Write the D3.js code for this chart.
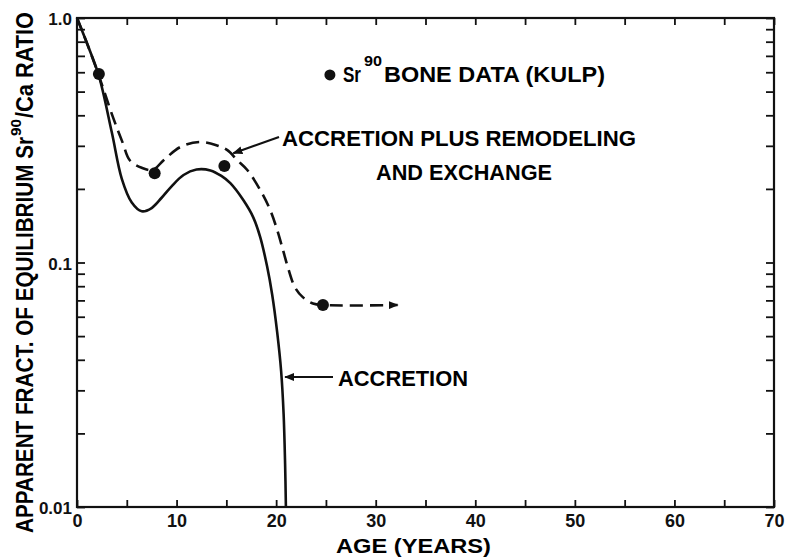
<!DOCTYPE html>
<html>
<head>
<meta charset="utf-8">
<script src="https://cdn.jsdelivr.net/npm/d3@7"></script>
<style>
  html, body { margin: 0; padding: 0; background: #fff; }
  svg { display: block; font-family: "Liberation Sans", Arial, sans-serif; font-weight: bold; }
  .tick line { stroke: #111; stroke-width: 1.8; }
  .tick text { fill: #111; }
</style>
</head>
<body>
<svg id="chart" width="785" height="558"></svg>
<script>
// Sr90 bone data vs. models: apparent fraction of equilibrium Sr90/Ca ratio by age.
const AGE_TICKS = [0, 5, 10, 15, 20, 25, 30, 35, 40, 45, 50, 55, 60, 65, 70];
const AGE_LABELS = [0, 10, 20, 30, 40, 50, 60, 70];
const RATIO_LABELS = [[0.01, "0.01"], [0.1, "0.1"], [1, "1.0"]];

// accretion model (solid)
const accretion = [
  [0, 1.0], [1.1, 0.77], [2.2, 0.58], [3.5, 0.34], [4.5, 0.22], [5.5, 0.176], [6.5, 0.162],
  [7.5, 0.167], [8.5, 0.184], [9.5, 0.205], [10.7, 0.228], [12.0, 0.240], [13.4, 0.238],
  [14.5, 0.226], [15.4, 0.211], [16.7, 0.180], [17.7, 0.153], [18.4, 0.127], [19.1, 0.096],
  [19.6, 0.074], [20.1, 0.052], [20.5, 0.036], [20.75, 0.024], [20.9, 0.015], [20.98, 0.01]
];
// accretion plus remodeling and exchange (dashed)
const remodeling = [
  [0, 1.0], [1.1, 0.77], [2.2, 0.58], [3.6, 0.394], [4.6, 0.308], [5.3, 0.262], [6.5, 0.244],
  [7.6, 0.239], [8.7, 0.262], [10.4, 0.297], [12.4, 0.311], [14.0, 0.302], [15.1, 0.288],
  [16.1, 0.262], [17.1, 0.239], [18.4, 0.198], [19.4, 0.164], [20.1, 0.136], [20.7, 0.112],
  [21.2, 0.095], [21.9, 0.079], [22.7, 0.072], [23.7, 0.068], [24.7, 0.067], [32.2, 0.067]
];
// Sr90 bone data (Kulp)
const kulpAge = [2.2, 7.8, 14.8, 24.7];
const kulpRatio = [0.59, 0.232, 0.248, 0.067];

const svg = d3.select("#chart");
const m = { left: 77, right: 774, top: 18, bottom: 507 };
const x = d3.scaleLinear().domain([0, 70]).range([m.left, m.right]);
const y = d3.scaleLog().domain([0.01, 1]).range([m.bottom, m.top]);
const minorY = d3.range(-2, 0).flatMap(e => d3.range(1, 10).map(k => +(k * 10 ** e).toFixed(4))).concat([1]);

const defs = svg.append("defs");
defs.append("marker").attr("id", "head").attr("viewBox", "0 0 10 8")
  .attr("refX", 9).attr("refY", 4).attr("markerWidth", 10).attr("markerHeight", 8)
  .attr("markerUnits", "userSpaceOnUse").attr("orient", "auto")
  .append("path").attr("d", "M0,0 L10,4 L0,8 Z").attr("fill", "#111");

// axes, ticks inward
const labelMap = new Map(RATIO_LABELS);
svg.append("g").attr("transform", `translate(0,${m.bottom})`)
  .call(d3.axisBottom(x).tickValues(AGE_TICKS).tickSize(-7).tickPadding(7)
    .tickFormat(d => AGE_LABELS.includes(d) ? d : ""))
  .call(g => g.selectAll("text").attr("font-size", 18));
svg.append("g").attr("transform", `translate(0,${m.top})`)
  .call(d3.axisTop(x).tickValues(AGE_TICKS).tickSize(-7).tickFormat(""));
svg.append("g").attr("transform", `translate(${m.left},0)`)
  .call(d3.axisLeft(y).tickValues(minorY).tickSize(-8).tickPadding(5)
    .tickFormat(d => labelMap.get(d) || ""))
  .call(g => g.selectAll("text").attr("font-size", 17).attr("dy", "0.4em"));
svg.append("g").attr("transform", `translate(${m.right},0)`)
  .call(d3.axisRight(y).tickValues(minorY).tickSize(-8).tickFormat(""));
svg.selectAll(".domain").remove();
svg.append("rect").attr("x", m.left).attr("y", m.top).attr("width", m.right - m.left).attr("height", m.bottom - m.top)
  .attr("fill", "none").attr("stroke", "#111").attr("stroke-width", 2.2);

// curves
const line = d3.line().x(d => x(d[0])).y(d => y(d[1])).curve(d3.curveCatmullRom.alpha(0.5));
svg.append("path").datum(accretion).attr("d", line)
  .attr("fill", "none").attr("stroke", "#111").attr("stroke-width", 2.6);
svg.append("path").datum(remodeling).attr("d", line)
  .attr("fill", "none").attr("stroke", "#111").attr("stroke-width", 2.6)
  .attr("stroke-dasharray", "13,7").attr("marker-end", "url(#head)");

svg.selectAll(".dot").data(kulpAge).join("circle").attr("class", "dot")
  .attr("cx", d => x(d)).attr("cy", (d, i) => y(kulpRatio[i])).attr("r", 6).attr("fill", "#111");

// legend / annotations
svg.append("circle").attr("cx", x(25.4)).attr("cy", y(0.585)).attr("r", 5.5).attr("fill", "#111");
svg.append("text").attr("x", 343).attr("y", 82).attr("font-size", 22)
  .attr("textLength", 18).attr("lengthAdjust", "spacingAndGlyphs").text("Sr");
svg.append("text").attr("x", 364).attr("y", 66).attr("font-size", 14)
  .attr("textLength", 18).attr("lengthAdjust", "spacingAndGlyphs").text("90");
svg.append("text").attr("x", 384).attr("y", 82).attr("font-size", 22)
  .attr("textLength", 221).attr("lengthAdjust", "spacingAndGlyphs").text("BONE DATA (KULP)");

svg.append("text").attr("x", 282).attr("y", 146).attr("font-size", 22)
  .attr("textLength", 354).attr("lengthAdjust", "spacingAndGlyphs").text("ACCRETION PLUS REMODELING");
svg.append("text").attr("x", 376).attr("y", 180).attr("font-size", 22)
  .attr("textLength", 176).attr("lengthAdjust", "spacingAndGlyphs").text("AND EXCHANGE");
svg.append("line").attr("x1", 279).attr("y1", 137).attr("x2", x(15.7)).attr("y2", y(0.28))
  .attr("stroke", "#111").attr("stroke-width", 2.2).attr("marker-end", "url(#head)");

svg.append("text").attr("x", 338).attr("y", 386).attr("font-size", 22)
  .attr("textLength", 130).attr("lengthAdjust", "spacingAndGlyphs").text("ACCRETION");
svg.append("line").attr("x1", 333).attr("y1", 377).attr("x2", x(20.9)).attr("y2", 377)
  .attr("stroke", "#111").attr("stroke-width", 2.2).attr("marker-end", "url(#head)");

// axis titles
svg.append("text").attr("x", 336).attr("y", 553).attr("font-size", 20)
  .attr("textLength", 155).attr("lengthAdjust", "spacingAndGlyphs").text("AGE (YEARS)");
const yt = svg.append("g").attr("transform", "rotate(-90)");
yt.append("text").attr("x", -533).attr("y", 33).attr("font-size", 23)
  .attr("textLength", 396).attr("lengthAdjust", "spacingAndGlyphs").text("APPARENT FRACT. OF EQUILIBRIUM Sr");
yt.append("text").attr("x", -136).attr("y", 21).attr("font-size", 14)
  .attr("textLength", 17).attr("lengthAdjust", "spacingAndGlyphs").text("90");
yt.append("text").attr("x", -118).attr("y", 33).attr("font-size", 23)
  .attr("textLength", 106).attr("lengthAdjust", "spacingAndGlyphs").text("/Ca RATIO");
</script>
</body>
</html>
